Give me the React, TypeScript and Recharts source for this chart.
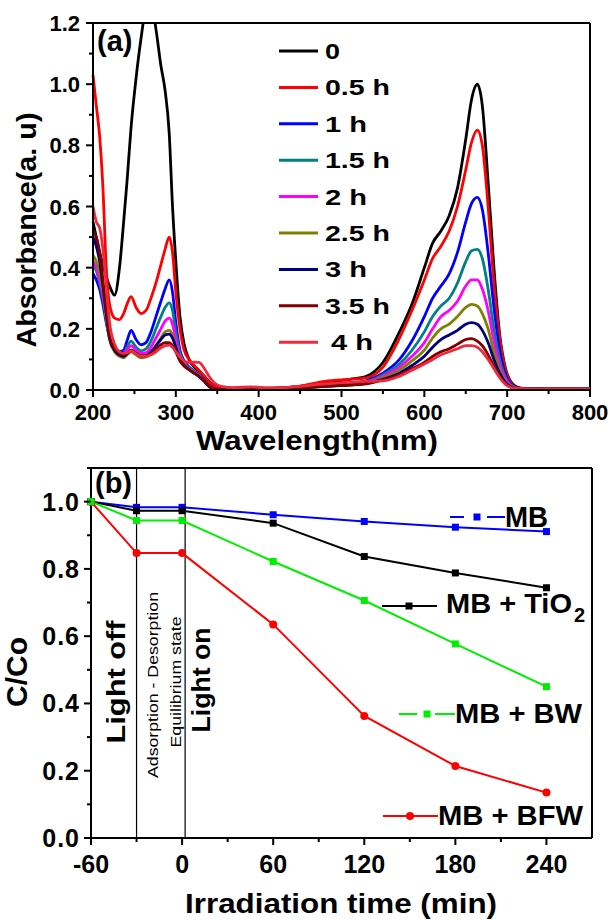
import React from 'react';
import { LineChart, Line, XAxis, YAxis, ReferenceLine } from 'recharts';

const FONT = '"Liberation Sans", Arial, Helvetica, sans-serif';

// ---- (a) UV-vis spectra ----
const wavelengths = [
  200, 204, 208, 212, 216, 220, 226, 232, 237, 241, 246, 252, 258, 264, 270, 276, 282, 287, 292, 296, 300,
  305, 310, 316, 322, 328, 334, 340, 347, 355, 370, 390, 420, 450, 480, 510, 530, 550, 570, 585, 600,
  610, 620, 630, 640, 650, 657, 664, 670, 677, 684, 691, 698, 705, 712, 720, 750, 800,
];

const abs0 = [
  0.55, 0.5, 0.45, 0.41, 0.37, 0.34, 0.31, 0.4, 0.55, 0.68, 0.86, 1.02, 1.15, 1.25, 1.27, 1.18, 1.06, 0.98, 0.84, 0.6, 0.42,
  0.24, 0.15, 0.1, 0.075, 0.062, 0.046, 0.028, 0.012, 0.006, 0.005, 0.005, 0.006, 0.012, 0.025, 0.035, 0.045, 0.09, 0.19, 0.28, 0.4,
  0.48, 0.52, 0.57, 0.66, 0.82, 0.95, 1.0, 0.93, 0.68, 0.4, 0.18, 0.07, 0.025, 0.01, 0.005, 0.004, 0.003,
];
const abs05 = [
  1.03, 0.93, 0.83, 0.66, 0.4, 0.28, 0.235, 0.23, 0.25, 0.28, 0.305, 0.27, 0.25, 0.26, 0.3, 0.35, 0.41, 0.46, 0.5, 0.45, 0.32,
  0.2, 0.13, 0.1, 0.08, 0.065, 0.045, 0.025, 0.012, 0.008, 0.006, 0.006, 0.007, 0.013, 0.028, 0.035, 0.04, 0.075, 0.17, 0.26, 0.36,
  0.43, 0.47, 0.52, 0.6, 0.72, 0.81, 0.85, 0.8, 0.6, 0.35, 0.17, 0.065, 0.022, 0.008, 0.005, 0.004, 0.003,
];
const abs1 = [
  0.38, 0.36, 0.33, 0.28, 0.22, 0.17, 0.14, 0.125, 0.13, 0.16, 0.195, 0.165, 0.148, 0.155, 0.19, 0.24, 0.29, 0.33, 0.36, 0.32, 0.22,
  0.13, 0.095, 0.075, 0.062, 0.05, 0.033, 0.015, 0.003, 0.002, 0.003, 0.003, 0.004, 0.008, 0.015, 0.022, 0.03, 0.055, 0.1, 0.16, 0.24,
  0.3, 0.34, 0.38, 0.45, 0.55, 0.61, 0.63, 0.59, 0.45, 0.27, 0.13, 0.05, 0.018, 0.007, 0.004, 0.003, 0.003,
];
const abs15 = [
  0.41, 0.39, 0.35, 0.3, 0.23, 0.17, 0.135, 0.12, 0.12, 0.14, 0.16, 0.14, 0.128, 0.135, 0.16, 0.2, 0.24, 0.27, 0.285, 0.26, 0.19,
  0.12, 0.09, 0.072, 0.06, 0.048, 0.032, 0.013, 0.003, 0.002, 0.003, 0.003, 0.004, 0.008, 0.014, 0.02, 0.027, 0.05, 0.085, 0.13, 0.19,
  0.24, 0.275, 0.3, 0.35, 0.42, 0.455, 0.46, 0.43, 0.33, 0.2, 0.1, 0.04, 0.015, 0.006, 0.004, 0.003, 0.003,
];
const abs2 = [
  0.42, 0.4, 0.36, 0.31, 0.24, 0.17, 0.13, 0.115, 0.115, 0.13, 0.145, 0.13, 0.12, 0.122, 0.14, 0.17, 0.2, 0.225, 0.235, 0.215, 0.165,
  0.11, 0.085, 0.07, 0.058, 0.046, 0.03, 0.012, 0.003, 0.002, 0.003, 0.003, 0.004, 0.007, 0.013, 0.019, 0.025, 0.045, 0.075, 0.11, 0.155,
  0.2, 0.24, 0.26, 0.29, 0.34, 0.36, 0.36, 0.33, 0.26, 0.16, 0.08, 0.035, 0.013, 0.005, 0.004, 0.003, 0.003,
];
const abs25 = [
  0.44, 0.42, 0.38, 0.32, 0.24, 0.165, 0.125, 0.11, 0.105, 0.115, 0.125, 0.115, 0.105, 0.108, 0.12, 0.145, 0.17, 0.19, 0.195, 0.18, 0.145,
  0.105, 0.082, 0.068, 0.056, 0.045, 0.03, 0.012, 0.003, 0.002, 0.003, 0.003, 0.004, 0.007, 0.012, 0.018, 0.023, 0.04, 0.065, 0.095, 0.13,
  0.17, 0.2, 0.215, 0.24, 0.27, 0.28, 0.275, 0.25, 0.2, 0.125, 0.065, 0.028, 0.011, 0.005, 0.004, 0.003, 0.003,
];
const abs3 = [
  0.5, 0.47, 0.42, 0.34, 0.25, 0.17, 0.13, 0.115, 0.11, 0.118, 0.13, 0.12, 0.11, 0.112, 0.125, 0.145, 0.165, 0.18, 0.183, 0.17, 0.14,
  0.1, 0.08, 0.067, 0.055, 0.044, 0.03, 0.012, 0.003, 0.002, 0.003, 0.003, 0.004, 0.007, 0.012, 0.017, 0.022, 0.035, 0.055, 0.08, 0.11,
  0.14, 0.165, 0.18, 0.195, 0.215, 0.22, 0.215, 0.195, 0.155, 0.1, 0.055, 0.024, 0.01, 0.005, 0.004, 0.003, 0.003,
];
const abs35 = [
  0.52, 0.5, 0.45, 0.36, 0.26, 0.175, 0.135, 0.12, 0.115, 0.12, 0.13, 0.12, 0.112, 0.112, 0.12, 0.135, 0.148, 0.155, 0.155, 0.145, 0.125,
  0.095, 0.078, 0.066, 0.055, 0.045, 0.03, 0.013, 0.004, 0.003, 0.003, 0.004, 0.004, 0.007, 0.012, 0.016, 0.02, 0.033, 0.05, 0.07, 0.09,
  0.11, 0.125, 0.135, 0.15, 0.165, 0.168, 0.16, 0.145, 0.115, 0.078, 0.045, 0.02, 0.009, 0.005, 0.004, 0.003, 0.003,
];
const abs4 = [
  0.6, 0.55, 0.53, 0.46, 0.34, 0.22, 0.15, 0.125, 0.12, 0.122, 0.128, 0.118, 0.11, 0.11, 0.115, 0.125, 0.138, 0.145, 0.147, 0.14, 0.125,
  0.108, 0.095, 0.09, 0.091, 0.09, 0.072, 0.045, 0.022, 0.012, 0.008, 0.01, 0.006, 0.012, 0.02, 0.025, 0.028, 0.03, 0.045, 0.065, 0.085,
  0.1, 0.115, 0.125, 0.135, 0.145, 0.145, 0.14, 0.125, 0.1, 0.07, 0.04, 0.018, 0.008, 0.005, 0.004, 0.003, 0.003,
];

const specSeries = [
  { key: 's0', name: '0', color: '#000000', values: abs0 },
  { key: 's05', name: '0.5 h', color: '#ff0000', values: abs05 },
  { key: 's1', name: '1 h', color: '#0000ff', values: abs1 },
  { key: 's15', name: '1.5 h', color: '#008080', values: abs15 },
  { key: 's2', name: '2 h', color: '#ff00ff', values: abs2 },
  { key: 's25', name: '2.5 h', color: '#808000', values: abs25 },
  { key: 's3', name: '3 h', color: '#000080', values: abs3 },
  { key: 's35', name: '3.5 h', color: '#800000', values: abs35 },
  { key: 's4', name: ' 4 h', color: '#ee2a3c', values: abs4 },
];

const specTicksX = [200, 250, 300, 350, 400, 450, 500, 550, 600, 650, 700, 750, 800];
const specTicksY = [0, 0.1, 0.2, 0.3, 0.4, 0.5, 0.6, 0.7, 0.8, 0.9, 1.0, 1.1, 1.2];

// ---- (b) degradation ----
const times = [-60, -30, 0, 60, 120, 180, 240];
const mb = [1.0, 0.983, 0.983, 0.961, 0.941, 0.924, 0.911];
const mbTio2 = [1.0, 0.973, 0.973, 0.936, 0.837, 0.788, 0.744];
const mbBw = [1.0, 0.944, 0.944, 0.822, 0.706, 0.577, 0.45];
const mbBfw = [1.0, 0.847, 0.847, 0.635, 0.363, 0.214, 0.135];

const degTicksX = [-60, -30, 0, 30, 60, 90, 120, 150, 180, 210, 240];
const degTicksY = [0, 0.1, 0.2, 0.3, 0.4, 0.5, 0.6, 0.7, 0.8, 0.9, 1.0, 1.1];

const specRows = wavelengths.map((w, i) => {
  const row: any = { w };
  specSeries.forEach((s) => (row[s.key] = s.values[i]));
  return row;
});

const degRows = times.map((t, i) => ({ t, mb: mb[i], tio2: mbTio2[i], bw: mbBw[i], bfw: mbBfw[i] }));

const XTickA = ({ x, y, payload }: any) => {
  const major = payload.value % 100 === 0;
  return (
    <g>
      <line x1={x} x2={x} y1={y} y2={y + (major ? 7 : 4)} stroke="#000" strokeWidth={2} />
      {major && (
        <text x={x} y={y + 30} textAnchor="middle" fontFamily={FONT} fontWeight="bold" fontSize={22} fill="#000">
          {payload.value}
        </text>
      )}
    </g>
  );
};

const YTickA = ({ x, y, payload }: any) => {
  const major = Math.round(payload.value * 10) % 2 === 0;
  return (
    <g>
      <line x1={x - (major ? 7 : 4)} x2={x} y1={y} y2={y} stroke="#000" strokeWidth={2} />
      {major && (
        <text x={x - 13} y={y + 8} textAnchor="end" fontFamily={FONT} fontWeight="bold" fontSize={22} fill="#000">
          {payload.value.toFixed(1)}
        </text>
      )}
    </g>
  );
};

const XTickB = ({ x, y, payload }: any) => {
  const major = payload.value % 60 === 0;
  return (
    <g>
      <line x1={x} x2={x} y1={y} y2={y + (major ? 7 : 4)} stroke="#000" strokeWidth={2} />
      {major && (
        <text x={x} y={y + 35} textAnchor="middle" fontFamily={FONT} fontWeight="bold" fontSize={25} fill="#000">
          {payload.value}
        </text>
      )}
    </g>
  );
};

const YTickB = ({ x, y, payload }: any) => {
  const v = Math.round(payload.value * 10);
  const major = v % 2 === 0 && v <= 10;
  return (
    <g>
      <line x1={x - (major ? 7 : 4)} x2={x} y1={y} y2={y} stroke="#000" strokeWidth={2} />
      {major && (
        <text x={x - 11} y={y + 9} textAnchor="end" fontFamily={FONT} fontWeight="bold" fontSize={25} letterSpacing={1} fill="#000">
          {payload.value.toFixed(1)}
        </text>
      )}
    </g>
  );
};

const square = (color: string) => (p: any) =>
  <rect key={p.index} x={p.cx - 3.5} y={p.cy - 3.5} width={7} height={7} fill={color} />;
const circle = (color: string) => (p: any) =>
  <circle key={p.index} cx={p.cx} cy={p.cy} r={4} fill={color} />;

const axisLine = { stroke: '#000', strokeWidth: 2 };

const App = () => {
  return (
    <div style={{ position: 'absolute', left: 0, top: 0, width: 610, height: 920, background: '#fff' }}>
      <div style={{ position: 'absolute', left: 0, top: 0 }}>
        <LineChart width={610} height={440} data={specRows} margin={{ top: 23, right: 20, bottom: 0, left: 0 }}>
          <XAxis dataKey="w" type="number" domain={[200, 800]} ticks={specTicksX} interval={0}
            tick={<XTickA />} tickLine={false} tickSize={0} tickMargin={0} axisLine={axisLine} height={50} />
          <YAxis type="number" domain={[0, 1.2]} ticks={specTicksY} interval={0} allowDataOverflow
            tick={<YTickA />} tickLine={false} tickSize={0} tickMargin={0} axisLine={axisLine} width={93} />
          <ReferenceLine y={1.2} stroke="#000" strokeWidth={2} />
          <ReferenceLine x={800} stroke="#000" strokeWidth={2} />
          {specSeries.map((s) => (
            <Line key={s.key} dataKey={s.key} type="monotone" stroke={s.color} strokeWidth={2.8}
              dot={false} isAnimationActive={false} />
          ))}
        </LineChart>
      </div>
      <div style={{ position: 'absolute', left: 0, top: 440 }}>
        <LineChart width={610} height={480} data={degRows} margin={{ top: 28, right: 18, bottom: 0, left: 0 }}>
          <XAxis dataKey="t" type="number" domain={[-60, 270]} ticks={degTicksX} interval={0}
            tick={<XTickB />} tickLine={false} tickSize={0} tickMargin={0} axisLine={axisLine} height={82} />
          <YAxis type="number" domain={[0, 1.1]} ticks={degTicksY} interval={0}
            tick={<YTickB />} tickLine={false} tickSize={0} tickMargin={0} axisLine={axisLine} width={91} />
          <ReferenceLine y={1.1} stroke="#000" strokeWidth={2} />
          <ReferenceLine x={270} stroke="#000" strokeWidth={2} />
          <ReferenceLine x={-30} stroke="#000" strokeWidth={1.2} />
          <ReferenceLine x={2} stroke="#000" strokeWidth={1.2} />
          <Line dataKey="mb" type="linear" stroke="#0000ff" strokeWidth={2} dot={square('#0000ff')} isAnimationActive={false} />
          <Line dataKey="tio2" type="linear" stroke="#000000" strokeWidth={2} dot={square('#000000')} isAnimationActive={false} />
          <Line dataKey="bfw" type="linear" stroke="#ff0000" strokeWidth={2} dot={circle('#ff0000')} isAnimationActive={false} />
          <Line dataKey="bw" type="linear" stroke="#00ee00" strokeWidth={2} dot={square('#00ee00')} isAnimationActive={false} />
        </LineChart>
      </div>
      <svg width={610} height={920} style={{ position: 'absolute', left: 0, top: 0, pointerEvents: 'none' }}
        fontFamily={FONT}>
        {/* panel (a) texts */}
        <text x={97} y={51} fontSize={29} fontWeight="bold">(a)</text>
        <text x={317} y={450} fontSize={28} fontWeight="bold" textAnchor="middle" textLength={242} lengthAdjust="spacingAndGlyphs">
          Wavelength(nm)
        </text>
        <text transform="translate(36,230) rotate(-90)" fontSize={28} fontWeight="bold" textAnchor="middle"
          textLength={235} lengthAdjust="spacingAndGlyphs">
          Absorbance(a. u)
        </text>
        {specSeries.map((s, i) => {
          const yy = 51 + i * 36.4;
          const label = s.name.trim();
          const len = label.length === 1 ? 15 : label.length === 3 ? 42 : 65;
          return (
            <g key={s.key}>
              <line x1={279} x2={318} y1={yy} y2={yy} stroke={s.color} strokeWidth={3} />
              <text x={s.name.startsWith(' ') ? 331 : 325} y={yy + 8} fontSize={22} fontWeight="bold"
                textLength={len} lengthAdjust="spacingAndGlyphs">
                {label}
              </text>
            </g>
          );
        })}

        {/* panel (b) texts */}
        <text x={95} y={493} fontSize={29} fontWeight="bold">(b)</text>
        <text x={341} y={913} fontSize={28} fontWeight="bold" textAnchor="middle" textLength={312} lengthAdjust="spacingAndGlyphs">
          Irradiation time (min)
        </text>
        <text transform="translate(27,672) rotate(-90)" fontSize={30} fontWeight="bold" textAnchor="middle"
          textLength={70} lengthAdjust="spacingAndGlyphs">
          C/Co
        </text>
        <text transform="translate(125,682) rotate(-90)" fontSize={26} fontWeight="bold" textAnchor="middle"
          textLength={123} lengthAdjust="spacingAndGlyphs">
          Light off
        </text>
        <text transform="translate(158,685) rotate(-90)" fontSize={15} textAnchor="middle"
          textLength={186} lengthAdjust="spacingAndGlyphs">
          Adsorption - Desorption
        </text>
        <text transform="translate(181,682) rotate(-90)" fontSize={15} textAnchor="middle"
          textLength={131} lengthAdjust="spacingAndGlyphs">
          Equilibrium state
        </text>
        <text transform="translate(210,680) rotate(-90)" fontSize={26} fontWeight="bold" textAnchor="middle"
          textLength={105} lengthAdjust="spacingAndGlyphs">
          Light on
        </text>

        {/* panel (b) legend */}
        <line x1={450} x2={464} y1={517} y2={517} stroke="#0000ff" strokeWidth={2} />
        <rect x={473.5} y={513.5} width={7} height={7} fill="#0000ff" />
        <line x1={487} x2={505} y1={517} y2={517} stroke="#0000ff" strokeWidth={2} />
        <text x={505} y={527} fontSize={30} fontWeight="bold" textLength={43} lengthAdjust="spacingAndGlyphs">MB</text>

        <line x1={382} x2={437} y1={606} y2={606} stroke="#000" strokeWidth={2} />
        <rect x={405.5} y={602.5} width={7} height={7} fill="#000" />
        <text x={446} y={613} fontSize={28} fontWeight="bold" textLength={126} lengthAdjust="spacingAndGlyphs">MB + TiO</text>
        <text x={574} y={622} fontSize={20} fontWeight="bold">2</text>

        <line x1={399} x2={417} y1={714} y2={714} stroke="#00ee00" strokeWidth={2} />
        <rect x={423.5} y={710.5} width={7} height={7} fill="#00ee00" />
        <line x1={435} x2={455} y1={714} y2={714} stroke="#00ee00" strokeWidth={2} />
        <text x={455} y={723} fontSize={28} fontWeight="bold" textLength={127} lengthAdjust="spacingAndGlyphs">MB + BW</text>

        <line x1={383} x2={438} y1={816} y2={816} stroke="#ff0000" strokeWidth={2} />
        <circle cx={410} cy={816} r={4} fill="#ff0000" />
        <text x={438} y={825} fontSize={28} fontWeight="bold" textLength={145} lengthAdjust="spacingAndGlyphs">MB + BFW</text>
      </svg>
    </div>
  );
};

export default App;
